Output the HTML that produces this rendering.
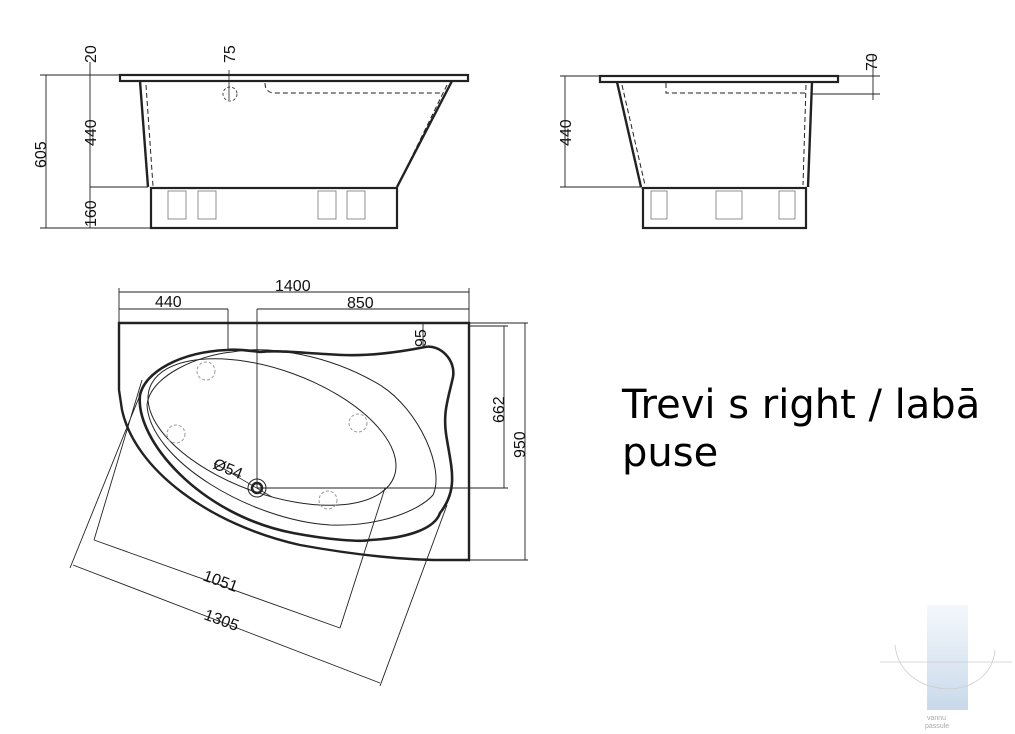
<!DOCTYPE html>
<html><head><meta charset="utf-8"><style>
html,body{margin:0;padding:0;background:#fff;}
svg{display:block;}
text{font-family:"Liberation Sans",sans-serif;fill:#111;}
</style></head><body>
<svg width="1015" height="734" viewBox="0 0 1015 734" xmlns="http://www.w3.org/2000/svg">
<defs><linearGradient id="wg" x1="0" y1="0" x2="0" y2="1"><stop offset="0" stop-color="#f4f8fc"/><stop offset="1" stop-color="#c9d9ea"/></linearGradient></defs>
<g fill="none" stroke="#222">
<!-- Left elevation -->
<rect x="120" y="75" width="348" height="6" stroke-width="2.2"/>
<path d="M140,81 L148,187 M452,81 L397,187" stroke-width="2.4"/>
<path d="M146,85 L153,186 M447,85 L398,185 M265,83 Q265,93 275,93 L443,93" stroke-width="1" stroke-dasharray="5,3"/>
<path d="M150,188 L397,188" stroke-dasharray="5,3"/>
<rect x="151" y="188" width="246" height="40" stroke-width="2.2"/>
<g stroke-width="0.8" stroke="#777">
<rect x="168" y="191" width="18" height="28"/><rect x="198" y="191" width="18" height="28"/>
<rect x="318" y="191" width="18" height="28"/><rect x="347" y="191" width="18" height="28"/>
</g>
<circle cx="230" cy="94" r="7" stroke-width="0.8" stroke-dasharray="3,2"/>
<path d="M229,70 L229,100" stroke-width="0.8"/>
<g stroke-width="0.9">
<path d="M46,75 L46,228 M90,62 L90,228 M40,75 L120,75 M90,187 L148,187 M40,228 L151,228"/>
</g>
<!-- Right elevation -->
<rect x="600" y="76" width="238" height="6" stroke-width="2.2"/>
<path d="M617,82 L641,187 M812,82 L808,187" stroke-width="2.4"/>
<path d="M622,85 L645,185 M806,85 L803,185 M666,83 L666,93 L806,93" stroke-width="1" stroke-dasharray="5,3"/>
<path d="M641,188 L808,188" stroke-dasharray="5,3"/>
<rect x="643" y="188" width="163" height="40" stroke-width="2.2"/>
<g stroke-width="0.8" stroke="#777">
<rect x="651" y="191" width="16" height="28"/><rect x="716" y="191" width="26" height="28"/><rect x="779" y="191" width="16" height="28"/>
</g>
<path d="M565,76 L565,187 M560,76 L600,76 M560,187 L641,187 M838,76 L880,76 M812,94 L880,94 M873,55 L873,100" stroke-width="0.9"/>
<!-- Plan -->
<path d="M119,323 L469,323 L469,560 L440,560 C410,560 360,556 300,545 C210,525 135,470 122,410 L119,390 Z" stroke-width="2.4"/>
<path d="M227,350 C180,352 145,372 140,395 C135,440 200,515 293,533 C330,540 360,542 370,540 C410,538 435,528 440,513 C458,490 452,470 447,440 C442,413 448,400 453,377 C456,360 440,344 425,347 C400,352 370,356 343,355 C300,353 280,350 260,352 C245,350 235,349 227,350 Z" stroke-width="2.6"/>
<path d="M232,352 C200,355 150,375 147,405 C150,460 250,520 330,525 C380,527 420,510 433,495 C445,470 420,410 380,385 C330,355 270,345 232,352 Z" stroke-width="1"/>
<ellipse cx="272" cy="432" rx="130" ry="62" transform="rotate(20 272 432)" stroke-width="1"/>
<circle cx="257" cy="488" r="9" stroke-width="1"/>
<circle cx="257" cy="488" r="5" stroke-width="2.5"/>
<path d="M214,463 L272,497" stroke-width="0.8"/>
<g stroke="#999" stroke-dasharray="3,2" stroke-width="1">
<circle cx="206" cy="371" r="9"/><circle cx="176" cy="434" r="9"/><circle cx="358" cy="423" r="9"/><circle cx="328" cy="500" r="9"/>
</g>
<g stroke-width="0.9">
<path d="M119,288 L119,323 M469,288 L469,323 M119,292 L469,292 M119,309 L228,309 M228,309 L228,350 M257,309 L469,309 M257,309 L257,488"/>
<path d="M469,326 L508,326 M257,488 L508,488 M504,326 L504,488 M469,560 L528,560 M525,323 L525,560 M469,323 L528,323 M423,323 L423,347"/>
<path d="M94,540 L340,628 M73,565 L380,683 M142,380 L94,540 M385,488 L340,628 M140,395 L70,568 M447,505 L380,686"/>
</g>
</g>
<g font-size="16">
<text transform="translate(96,63) rotate(-90)">20</text>
<text transform="translate(235,63) rotate(-90)">75</text>
<text transform="translate(96,146) rotate(-90)">440</text>
<text transform="translate(46,168) rotate(-90)">605</text>
<text transform="translate(96,227) rotate(-90)">160</text>
<text transform="translate(571,146) rotate(-90)">440</text>
<text transform="translate(877,71) rotate(-90)">70</text>
<text x="275" y="291">1400</text>
<text x="155" y="307">440</text>
<text x="347" y="308">850</text>
<text transform="translate(426,347) rotate(-90)">95</text>
<text transform="translate(504,423) rotate(-90)">662</text>
<text transform="translate(525,458) rotate(-90)">950</text>
<text transform="translate(212,468) rotate(22)">Ø54</text>
<text transform="translate(202,580) rotate(20)">1051</text>
<text transform="translate(203,619) rotate(20)">1305</text>
</g>
<text x="622" y="418" font-size="40" style="font-family:'DejaVu Sans',sans-serif;fill:#000">Trevi s right / labā</text>
<text x="622" y="466" font-size="40" style="font-family:'DejaVu Sans',sans-serif;fill:#000">puse</text>
<rect x="927" y="605" width="41" height="105" fill="url(#wg)"/>
<g fill="none" stroke="#ccc" stroke-width="0.8">
<path d="M880,662 L1012,662"/><path d="M895,645 C900,700 990,705 995,650"/>
</g>
<text x="927" y="720" font-size="7" style="fill:#aaa">vannu</text>
<text x="925" y="728" font-size="7" style="fill:#aaa">passule</text>
</svg>
</body></html>
